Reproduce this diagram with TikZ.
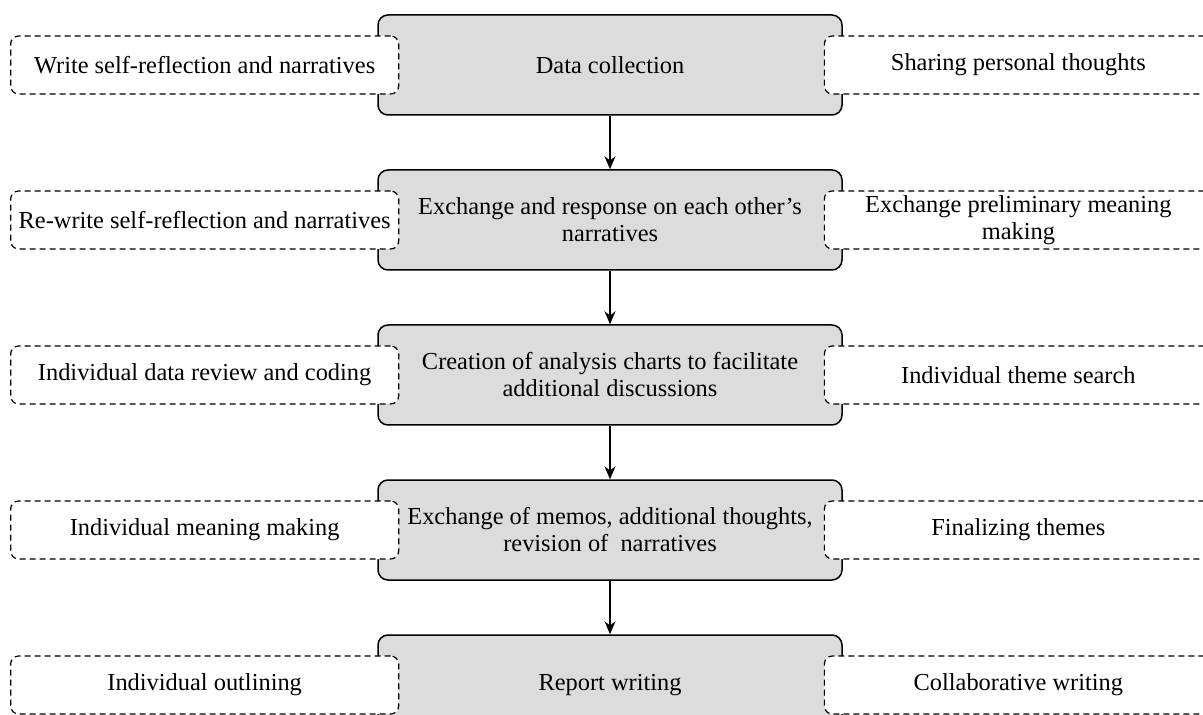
\documentclass[tikz,border=0pt]{standalone}
\usepackage{fontspec}
\setmainfont{Liberation Serif}
\usetikzlibrary{positioning,arrows.meta}

\definecolor{stepgray}{RGB}{220,220,220}

\begin{document}
\begin{tikzpicture}[
	font=\fontsize{12.2pt}{13.5pt}\selectfont,
	>=Stealth,
	phase/.style={draw=black, line width=0.75pt, rounded corners=5pt,
		fill=stepgray, align=center, minimum width=232pt, minimum height=50pt,
		inner sep=2pt},
	side/.style={draw=black, line width=0.6pt, dash pattern=on 3pt off 2pt,
		rounded corners=4pt, fill=white, align=center,
		minimum width=194pt, minimum height=29pt, inner sep=2pt},
	flow/.style={->, line width=0.6pt, >={Stealth[length=6.5pt,width=5.5pt]}},
]

\useasboundingbox (0,0) rectangle (601.5pt,-357.5pt);

% ---- central phases ----
\node[phase] (p1) at (305pt,-32.5pt) {Data collection};
\node[phase, below=26.75pt of p1] (p2)
	{Exchange and response on each other's\\ narratives};
\node[phase, below=26.75pt of p2] (p3)
	{Creation of analysis charts to facilitate\\ additional discussions};
\node[phase, below=26.75pt of p3] (p4)
	{Exchange of memos, additional thoughts,\\ revision of~ narratives};
\node[phase, below=26.75pt of p4] (p5) {Report writing};

\draw[flow] (p1) -- (p2);
\draw[flow] (p2) -- (p3);
\draw[flow] (p3) -- (p4);
\draw[flow] (p4) -- (p5);

% ---- individual work (left) ----
\node[side, anchor=east] (l1) at ([xshift=11pt]p1.west) {Write self-reflection and narratives};
\node[side, anchor=east] (l2) at ([xshift=11pt]p2.west) {Re-write self-reflection and narratives};
\node[side, anchor=east] (l3) at ([xshift=11pt]p3.west) {Individual data review and coding};
\node[side, anchor=east] (l4) at ([xshift=11pt]p4.west) {Individual meaning making};
\node[side, anchor=east] (l5) at ([xshift=11pt]p5.west) {Individual outlining};

% ---- shared work (right) ----
\node[side, anchor=west] (r1) at ([xshift=-9.5pt]p1.east) {Sharing personal thoughts};
\node[side, anchor=west] (r2) at ([xshift=-9.5pt]p2.east) {Exchange preliminary meaning\\ making};
\node[side, anchor=west] (r3) at ([xshift=-9.5pt]p3.east) {Individual theme search};
\node[side, anchor=west] (r4) at ([xshift=-9.5pt]p4.east) {Finalizing themes};
\node[side, anchor=west] (r5) at ([xshift=-9.5pt]p5.east) {Collaborative writing};

\end{tikzpicture}
\end{document}
